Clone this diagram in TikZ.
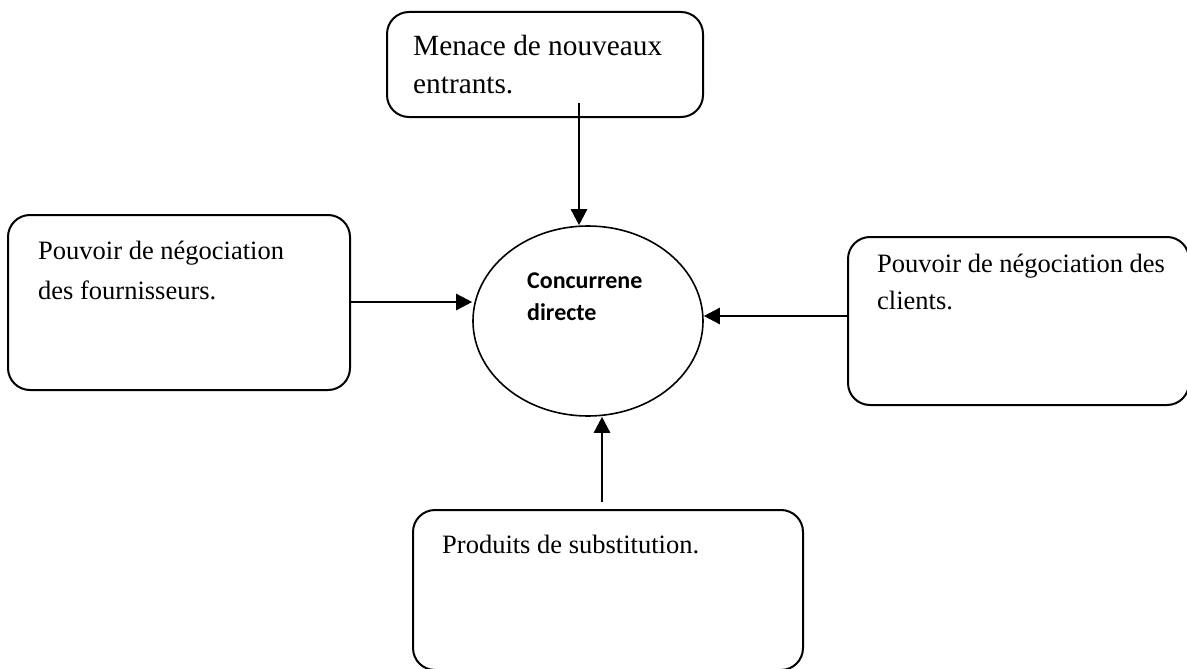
\documentclass[tikz,border=0pt]{standalone}
\usepackage{fontspec}
\setmainfont{Liberation Serif}
\newfontfamily\calib{Carlito}
\usetikzlibrary{shapes.geometric,arrows.meta}
\begin{document}
\begin{tikzpicture}[x=1pt,y=-1pt,
  box/.style={draw,line width=2pt,rounded corners=22pt,rectangle,inner sep=0pt},
  lbl/.style={anchor=north west,inner sep=0pt,align=left},
  arr/.style={line width=2.5pt,-{Triangle[length=16pt,width=16pt]}}]
\useasboundingbox (0,0) rectangle (1187,669);
% boxes
\node[box,minimum width=316pt,minimum height=105pt] (top) at (545,64.5) {};
\node[box,minimum width=342pt,minimum height=175pt] (left) at (179,302.5) {};
\node[box,minimum width=341pt,minimum height=168pt] (right) at (1018.5,321) {};
\node[box,minimum width=390pt,minimum height=160pt] (bottom) at (608,590) {};
% ellipse
\node[draw,ellipse,line width=1.6pt,minimum width=230pt,minimum height=190pt,inner sep=0pt] (ell) at (588,321) {};
% texts
\node[lbl,font=\fontsize{29.3}{38}\selectfont] (ttop) at (413,35) {Menace de nouveaux\\entrants.};
\node[lbl,font=\fontsize{26.5}{40}\selectfont] (tleft) at (38,241) {Pouvoir de négociation\\des fournisseurs.};
\node[lbl,font=\fontsize{26.5}{37}\selectfont] (tright) at (877,254) {Pouvoir de négociation des\\clients.};
\node[lbl,font=\fontsize{26.5}{38}\selectfont] (tbottom) at (442,535) {Produits de substitution.};
\node[lbl,font=\calib\bfseries\fontsize{24}{32}\selectfont] (tell) at (527,273) {Concurrene\\directe};
% connectors
\coordinate (ta) at (579,103);
\coordinate (la) at (350,302);
\coordinate (ra) at (848,316);
\coordinate (ba) at (602,502);
\draw[arr] (ta) -- (ta |- ell.north);
\draw[arr] (la) -- (la -| ell.west);
\draw[arr] (ra) -- (ra -| ell.east);
\draw[arr] (ba) -- (ba |- ell.south);
\end{tikzpicture}
\end{document}
